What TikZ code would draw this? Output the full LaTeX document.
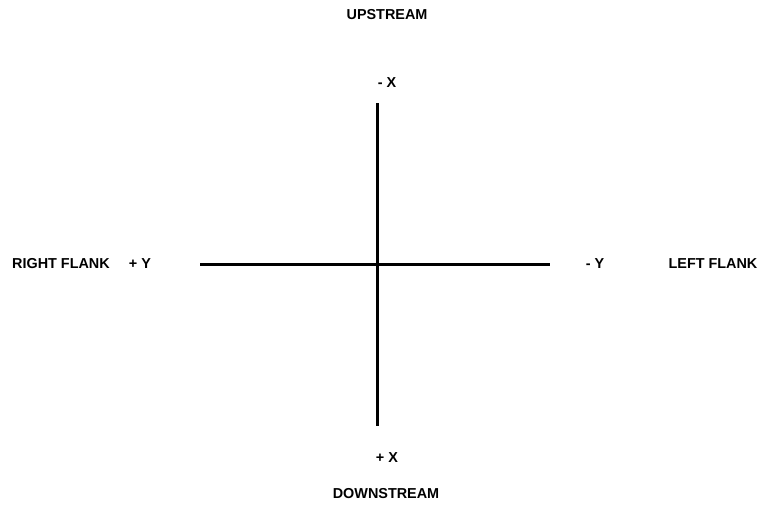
\documentclass[tikz,border=0pt]{standalone}
\usepackage{fontspec}
\setmainfont{Liberation Sans}
\usetikzlibrary{positioning}

\begin{document}
\begin{tikzpicture}[x=1pt,y=-1pt,
   lbl/.style={font=\bfseries\fontsize{14.4}{16}\selectfont,inner sep=0pt},
   axis/.style={line width=3pt}]
  \useasboundingbox (0,0) rectangle (760,506);
  % ---------- axes ----------
  \coordinate (top) at (377,103);
  \coordinate (bot) at (377,426);
  \coordinate (lft) at (200,264);
  \coordinate (rgt) at (550,264);
  \draw[axis] (top) -- (bot);
  \draw[axis] (lft) -- (rgt);
  % ---------- labels ----------
  \node[lbl] (up)    at (387,15)  {UPSTREAM};
  \node[lbl] (mx)    at (387,83)  {- X};
  \node[lbl] (px)    at (387,458) {+ X};
  \node[lbl] (down)  at (386,494) {DOWNSTREAM};
  \node[lbl] (rflank) at (61,264) {RIGHT FLANK};
  \node[lbl] (py)    at (140,264) {+ Y};
  \node[lbl] (my)    at (595,264) {- Y};
  \node[lbl] (lflank) at (713,264) {LEFT FLANK};
\end{tikzpicture}
\end{document}
